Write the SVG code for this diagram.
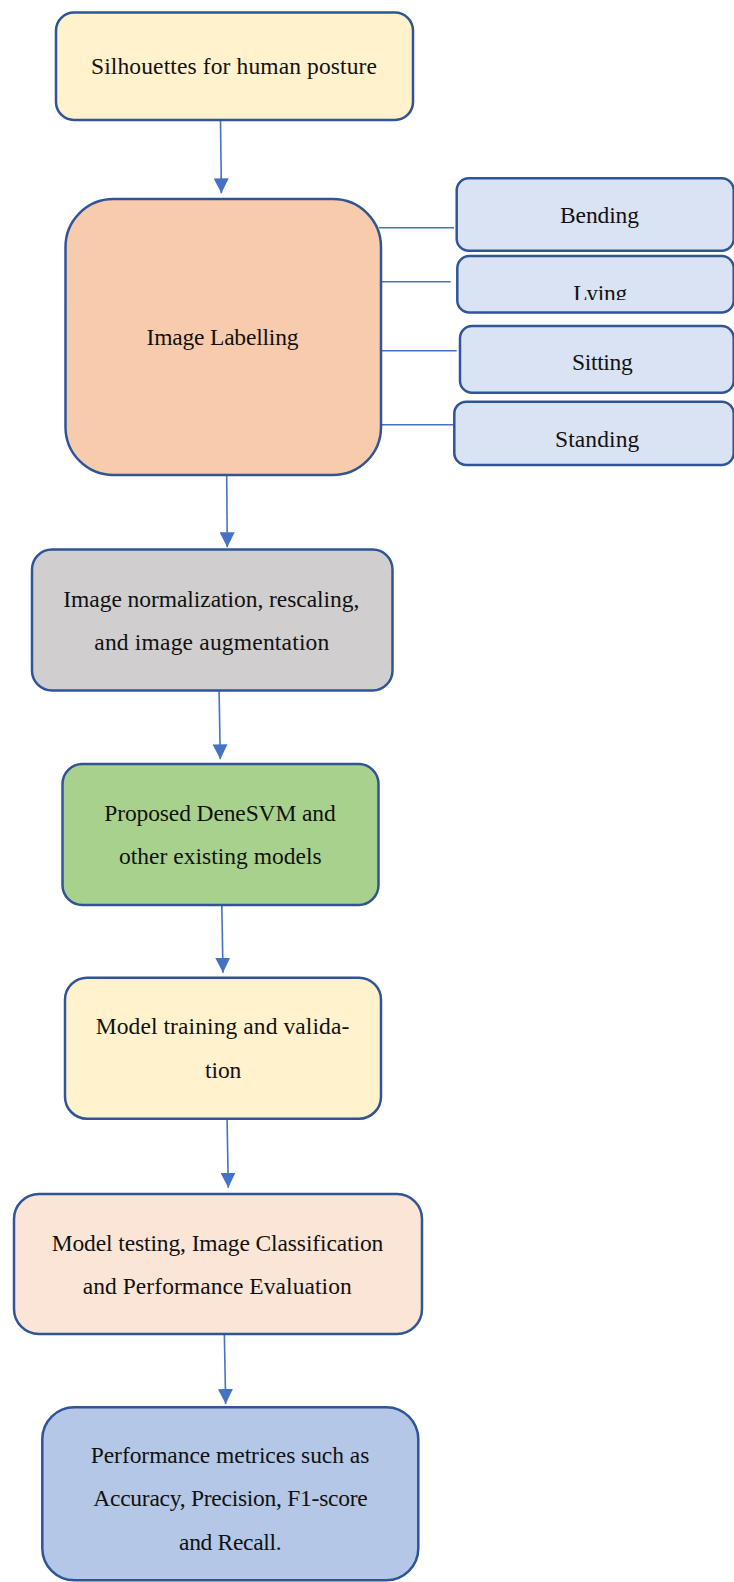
<svg xmlns="http://www.w3.org/2000/svg" width="734" height="1582" viewBox="0 0 734 1582">
<style>
.box{stroke:#2F5597;stroke-width:2.5}
.t{font-family:"Liberation Serif","Times New Roman",serif;font-size:23.5px;fill:#111111}
.conn{stroke:#4472C4;stroke-width:1.6;fill:none}
</style>
<defs>
<marker id="ah" viewBox="0 0 15 15" refX="15" refY="7.5" markerWidth="15" markerHeight="15" markerUnits="userSpaceOnUse" orient="auto">
<path d="M0,0 L15,7.5 L0,15 z" fill="#4472C4"/>
</marker>
<clipPath id="lyingClip"><rect x="458" y="257" width="276" height="43"/></clipPath>
</defs>
<rect width="734" height="1582" fill="#FFFFFF"/>
<g id="connectors">
<line class="conn" x1="220.5" y1="121" x2="221.4" y2="193.3" marker-end="url(#ah)"/>
<line class="conn" x1="226.7" y1="476" x2="227.3" y2="547.3" marker-end="url(#ah)"/>
<line class="conn" x1="219" y1="686.7" x2="220.3" y2="759.3" marker-end="url(#ah)"/>
<line class="conn" x1="221.7" y1="900" x2="223" y2="972.7" marker-end="url(#ah)"/>
<line class="conn" x1="227" y1="1115.3" x2="228.3" y2="1187.7" marker-end="url(#ah)"/>
<line class="conn" x1="224.3" y1="1331.7" x2="225.7" y2="1404" marker-end="url(#ah)"/>
<line class="conn" x1="379" y1="227.7" x2="454" y2="227.7"/>
<line class="conn" x1="375" y1="281.7" x2="450.7" y2="281.7"/>
<line class="conn" x1="381.7" y1="350.7" x2="456.7" y2="350.7"/>
<line class="conn" x1="378.3" y1="424.7" x2="454.3" y2="424.7"/>
</g>
<g id="n-silhouettes">
<rect class="box" x="56" y="12.5" width="357" height="107.5" rx="18" fill="#FFF2CC"/>
<text class="t" x="91" y="74.3" textLength="286">Silhouettes for human posture</text>
</g>
<g id="n-labelling">
<rect class="box" x="65.5" y="199" width="315.5" height="276" rx="48" fill="#F8CBAD"/>
<text class="t" x="146.5" y="345" textLength="152">Image Labelling</text>
</g>
<g id="n-bending">
<rect class="box" x="456.7" y="178.3" width="277" height="72.4" rx="12" fill="#DAE3F3"/>
<text class="t" x="560" y="222.7" textLength="79">Bending</text>
</g>
<g id="n-lying">
<rect class="box" x="457.3" y="256" width="276.4" height="56.5" rx="12" fill="#DAE3F3"/>
<text class="t" x="573.3" y="301" textLength="54" clip-path="url(#lyingClip)">Lying</text>
</g>
<g id="n-sitting">
<rect class="box" x="460" y="326" width="273.7" height="66.7" rx="12" fill="#DAE3F3"/>
<text class="t" x="572" y="370" textLength="60.7">Sitting</text>
</g>
<g id="n-standing">
<rect class="box" x="454.3" y="401.7" width="279.4" height="63.3" rx="12" fill="#DAE3F3"/>
<text class="t" x="555" y="446.7" textLength="84.3">Standing</text>
</g>
<g id="n-normalization">
<rect class="box" x="32" y="549.5" width="360.5" height="141" rx="20" fill="#D0CECE"/>
<text class="t" x="63.3" y="606.7" textLength="296">Image normalization, rescaling,</text>
<text class="t" x="94.3" y="650" textLength="235">and image augmentation</text>
</g>
<g id="n-models">
<rect class="box" x="62.5" y="764" width="316" height="141" rx="20" fill="#A9D18E"/>
<text class="t" x="104.3" y="821" textLength="231.4">Proposed DeneSVM and</text>
<text class="t" x="119" y="864.3" textLength="202.7">other existing models</text>
</g>
<g id="n-training">
<rect class="box" x="65" y="977.7" width="316" height="141" rx="22" fill="#FFF2CC"/>
<text class="t" x="95.7" y="1034" textLength="253.6">Model training and valida-</text>
<text class="t" x="205" y="1078.3" textLength="36.3">tion</text>
</g>
<g id="n-testing">
<rect class="box" x="14" y="1194" width="408" height="140" rx="25" fill="#FBE5D6"/>
<text class="t" x="51.7" y="1251" textLength="331.6">Model testing, Image Classification</text>
<text class="t" x="82.7" y="1294" textLength="269">and Performance Evaluation</text>
</g>
<g id="n-metrics">
<rect class="box" x="42.3" y="1407.3" width="376" height="173" rx="32" fill="#B4C7E7"/>
<text class="t" x="90.7" y="1463.3" textLength="278.6">Performance metrices such as</text>
<text class="t" x="93.3" y="1505.7" textLength="274.4">Accuracy, Precision, F1-score</text>
<text class="t" x="179" y="1550" textLength="102.7">and Recall.</text>
</g>
</svg>
